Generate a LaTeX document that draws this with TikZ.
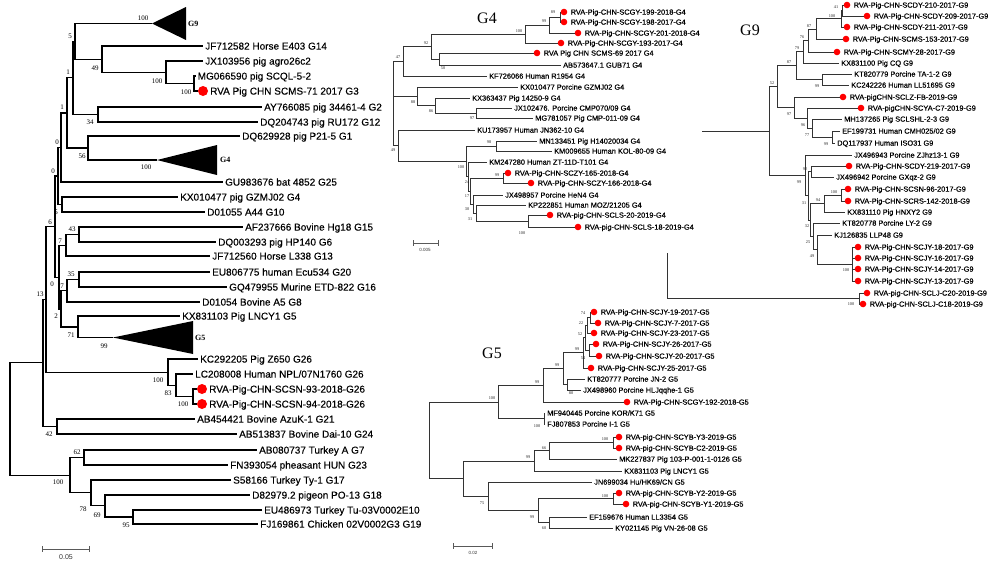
\documentclass[tikz,border=0pt]{standalone}
\usepackage{fontspec}
\setmainfont{Liberation Sans}
\newfontfamily\timesf{Liberation Serif}
\newfontfamily\lblL[FakeBold=0.25]{Liberation Sans}
\newfontfamily\lblR[FakeBold=0.45]{Liberation Sans}
\usetikzlibrary{calc}

\begin{document}
\begin{tikzpicture}[x=1pt, y=-1pt]
%styles
\tikzstyle{txtL}=[anchor=west, inner sep=0pt, font=\lblL\fontsize{10}{12}\selectfont, text height=7.2pt, text depth=0pt]
\tikzstyle{txtR}=[anchor=west, inner sep=0pt, font=\lblR\fontsize{7.4}{9}\selectfont, text height=5.3pt, text depth=0pt]
\tikzstyle{bootL}=[inner sep=0pt, font=\timesf\fontsize{7}{8}\selectfont]
\tikzstyle{bootR}=[inner sep=0pt, font=\timesf\fontsize{4.3}{5}\selectfont, black!85]
\tikzstyle{dotL}=[circle, fill=red, minimum size=10pt, inner sep=0pt]
\tikzstyle{dotR}=[circle, fill=red, minimum size=6.6pt, inner sep=0pt]
\tikzstyle{brL}=[line width=1.1pt]
\tikzstyle{brR}=[line width=0.8pt, black!80]
\tikzstyle{clade}=[anchor=west, inner sep=0pt, font=\timesf\bfseries\fontsize{8}{9}\selectfont]
\tikzstyle{title}=[inner sep=0pt, font=\timesf\fontsize{16}{18}\selectfont]
\tikzstyle{scl}=[line width=0.6pt, black!65, |-|]
\tikzstyle{scltxt}=[inner sep=0pt, font=\fontsize{6.5}{8}\selectfont, black!80]

\fill[white] (0,0) rectangle (1000,562);
\useasboundingbox (0,0) rectangle (1000,562);

%%%%% left tree
%leaves
\foreach \n/\x/\y/\t in {jfa/203/46/{JF712582 Horse E403 G14}, jxa/203/61/{JX103956 pig agro26c2},
  mga/195.5/76/{MG066590 pig SCQL-5-2}, aya/262/107/{AY766085 pig 34461-4 G2},
  dqa/258/122/{DQ204743 pig RU172 G12}, dqb/240/136/{DQ629928 pig P21-5 G1},
  gua/223/182/{GU983676 bat 4852 G25}, kxa/178/197/{KX010477 pig GZMJ02 G4},
  dna/205/212/{D01055 A44 G10}, afa/243/227/{AF237666 Bovine Hg18 G15},
  dqc/216/242/{DQ003293 pig HP140 G6}, jfb/210/256/{JF712560 Horse L338 G13},
  eua/210/272/{EU806775 human Ecu534 G20}, gqa/227/287/{GQ479955 Murine ETD-822 G16},
  dnb/200/302/{D01054 Bovine A5 G8}, kxb/180/316/{KX831103 Pig LNCY1 G5},
  kca/198/359/{KC292205 Pig Z650 G26}, lca/193/374/{LC208008 Human NPL/07N1760 G26},
  aba/195/419/{AB454421 Bovine AzuK-1 G21}, abb/237/434/{AB513837 Bovine Dai-10 G24},
  abc/257/450/{AB080737 Turkey A G7}, fna/228/465/{FN393054 pheasant HUN G23},
  s58/231/480/{S58166 Turkey Ty-1 G17}, d82/250/495/{D82979.2 pigeon PO-13 G18},
  eub/262/510/{EU486973 Turkey Tu-03V0002E10}, fja/258/524/{FJ169861 Chicken 02V0002G3 G19}}
  {\coordinate (\n) at (\x,\y);
   \node[txtL] (t\n) at (\x+2,\y) {\t};}
\foreach \n/\x/\y/\t in {rva71/198/91/{RVA Pig CHN SCMS-71 2017 G3},
  rva93/197/389/{RVA-Pig-CHN-SCSN-93-2018-G26}, rva94/197/404/{RVA-Pig-CHN-SCSN-94-2018-G26}}
  {\coordinate (\n) at (\x,\y);
   \node[dotL] (d\n) at (\x+5,\y) {};
   \node[txtL] (t\n) at (\x+12,\y) {\t};}

%collapsed clades
\coordinate (cg9) at (152,23.5);
\coordinate (cg4) at (157,160);
\coordinate (cg5) at (113,337.5);
\fill (cg9) -- (186,7) -- (186,40) -- cycle;
\fill (cg4) -- (217,145) -- (217,175) -- cycle;
\fill (cg5) -- (193,321) -- (193,354) -- cycle;
\node[clade] (lg9) at (188,24) {G9};
\node[clade] (lg4) at (220,160) {G4};
\node[clade] (lg5) at (195,338) {G5};

%inner nodes
\foreach \n/\x/\y in {nA/194/83.5, nB/166/72.2, nC/102/59.1, nD/75/41.3, nE/98/114.5, nF/73/77.9,
  nG/88/148, nH/67/113, nI/61/147.5, nK/62/204.5, nJ/58/176, n43/79/234.5, n7a/66/245.2,
  n35/79/279.5, n7b/67/290.7, n71/78/327, n2/61/309, n0c/59/277.1, nL/55/226.5, nP/193/396.5,
  n83/176/385.2, nQ/168/372.1, n13/46/299.3, n42/57/426.5, nX/43/362.9, n62/84/457.5,
  n95/133/517, n69/105/505.8, n78/91/492.9, nR/70/475.2, nroot/10/419}
  \coordinate (\n) at (\x,\y);

%branches
\foreach \p/\c in {nA/mga, nA/rva71, nB/jxa, nB/nA, nC/jfa, nC/nB, nD/cg9, nD/nC, nE/aya, nE/dqa,
  nF/nD, nF/nE, nG/dqb, nG/cg4, nH/nF, nH/nG, nI/nH, nI/gua, nK/kxa, nK/dna, nJ/nI, nJ/nK,
  n43/afa, n43/dqc, n7a/n43, n7a/jfb, n35/eua, n35/gqa, n7b/n35, n7b/dnb, n71/kxb, n71/cg5,
  n2/n7b, n2/n71, n0c/n7a, n0c/n2, nL/nJ, nL/n0c, nP/rva93, nP/rva94, n83/lca, n83/nP,
  nQ/kca, nQ/n83, n13/nL, n13/nQ, n42/aba, n42/abb, nX/n13, nX/n42, n62/abc, n62/fna,
  n95/eub, n95/fja, n69/d82, n69/n95, n78/s58, n78/n69, nR/n62, nR/n78, nroot/nX, nroot/nR}
  \draw[brL] (\p) |- (\c);

%bootstrap values
\foreach \t/\x/\y [count=\i] in {100/143/18, 5/70/36, 49/95/68, 1/68/72, 100/157/81, 100/186/92,
  1/62/107, 34/90/122, 0/57/142, 56/82/156, 100/146/167, 0/53/171, 5/56/212, 6/50/222, 43/72/229,
  7/60/241, 35/71/274, 0/52/284, 7/62/286, 13/40/294, 2/56/316, 71/71/335, 99/104/346,
  100/158/380, 83/168/393, 100/183/404, 42/49/434, 62/77/452, 100/58/482, 78/83/509,
  69/97/515, 95/126/525}
  \node[bootL] (bl\i) at (\x,\y) {\t};

%scale
\coordinate (sla) at (42,549);
\coordinate (slb) at (90,549);
\draw[scl] (sla) -- (slb);
\node[scltxt, font=\fontsize{7}{8}\selectfont] (sl) at (66,557) {0.05};

%%%%% G4
\node[title] (tg4) at (487,18) {G4};
\foreach \n/\x/\y/\t in {ab647/561/65/{AB573647.1 GUB71 G4}, kf066/487/76/{KF726066 Human R1954 G4},
  kx477/518/87/{KX010477 Porcine GZMJ02 G4}, kx437/470/98/{KX363437 Pig 14250-9 G4},
  jx476/512/108/{JX102476. Porcine CMP070/09 G4}, mg057/533/118/{MG781057 Pig CMP-011-09 G4},
  ku957/475/130/{KU173957 Human JN362-10 G4}, mn451/537/141/{MN133451 Pig H14020034 G4},
  km655/552/151/{KM009655 Human KOL-80-09 G4}, km280/487/162/{KM247280 Human ZT-11D-T101 G4},
  jx957/503/195/{JX498957 Porcine HeN4 G4}, kp851/526/205/{KP222851 Human MOZ/21205 G4}}
  {\coordinate (\n) at (\x,\y);
   \node[txtR] (t\n) at (\x+2,\y) {\t};}
\foreach \n/\x/\y/\t in {gy199/560.7/12/{RVA-Pig-CHN-SCGY-199-2018-G4},
  gy198/560.7/22/{RVA-Pig-CHN-SCGY-198-2017-G4}, gy201/574.7/33/{RVA-Pig-CHN-SCGY-201-2018-G4},
  gy193/557.7/43/{RVA-Pig-CHN-SCGY-193-2017-G4}, ms69/533.7/53/{RVA Pig CHN SCMS-69 2017 G4},
  zy165/504.7/173/{RVA-Pig-CHN-SCZY-165-2018-G4}, zy166/527.7/183/{RVA-Pig-CHN-SCZY-166-2018-G4},
  ls20/546.7/215/{RVA-pig-CHN-SCLS-20-2019-G4}, ls18/574.7/227/{RVA-pig-CHN-SCLS-18-2019-G4}}
  {\coordinate (\n) at (\x,\y);
   \node[dotR] (d\n) at (\x+3.3,\y) {};
   \node[txtR] (t\n) at (\x+9.8,\y) {\t};}
\foreach \n/\x/\y in {a89/560/17, a99/549/25, a100/525/34, a50/439/59, a92/431/46.5, a47/403/61.3,
  a97/476/113, a86/435/105.5, a88/417/96.3, a98/496/146, a99b/503/178, a100g/528/221,
  a31/476/213, a30/473/204, a17/470/191, a24/468/176.5, a100f/466/161.3, a49/398/145.6,
  aroot/393/96.3}
  \coordinate (\n) at (\x,\y);
\foreach \p/\c in {a89/gy199, a89/gy198, a99/a89, a99/gy201, a100/a99, a100/gy193, a50/ms69,
  a50/ab647, a92/a100, a92/a50, a47/a92, a47/kf066, a97/jx476, a97/mg057, a86/kx437, a86/a97,
  a88/kx477, a88/a86, a98/mn451, a98/km655, a99b/zy165, a99b/zy166, a100g/ls20, a100g/ls18,
  a31/kp851, a31/a100g, a30/jx957, a30/a31, a17/a99b, a17/a30, a24/km280, a24/a17,
  a100f/a98, a100f/a24, a49/ku957, a49/a100f, aroot/a47, aroot/a88, aroot/a49}
  \draw[brR] (\p) |- (\c);
\foreach \t/\x/\y [count=\i] in {89/553/12, 99/544/21, 100/519/31, 92/426/43, 47/398/57, 50/443/68,
  88/413/102, 86/431/111, 97/472/118, 98/489/142, 49/393/150, 100/461/167, 99/497/175,
  24/467/182, 17/467/196, 30/467/209, 31/470/219, 100/522/233}
  \node[bootR] (ba\i) at (\x,\y) {\t};
\coordinate (sga) at (413,243);
\coordinate (sgb) at (438,243);
\draw[scl, line width=0.4pt] (sga) -- (sgb);
\node[scltxt, font=\fontsize{4.5}{5}\selectfont] (sg) at (425,250) {0.005};

%%%%% G9
\node[title] (tg9) at (750,30) {G9};
\foreach \n/\x/\y/\t in {kx100/839/63/{KX831100 Pig CQ G9}, kt779/852/74/{KT820779 Porcine TA-1-2 G9},
  kc226/849/85/{KC242226 Human LL51695 G9}, mh265/842/119/{MH137265 Pig SCLSHL-2-3 G9},
  ef731/840/131/{EF199731 Human CMH025/02 G9}, dq937/835/143/{DQ117937 Human ISO31 G9},
  jx943/852/155/{JX496943 Porcine ZJhz13-1 G9}, jx942/834/177/{JX496942 Porcine GXqz-2 G9},
  kx110/845/212/{KX831110 Pig HNXY2 G9}, kt778/840/223/{KT820778 Porcine LY-2 G9},
  kj835/832/235/{KJ126835 LLP48 G9}}
  {\coordinate (\n) at (\x,\y);
   \node[txtR] (t\n) at (\x+2,\y) {\t};}
\foreach \n/\x/\y/\t in {dy210/843.7/5/{RVA-Pig-CHN-SCDY-210-2017-G9},
  dy209/863.7/16/{RVA-Pig-CHN-SCDY-209-2017-G9}, dy211/843.7/27/{RVA-Pig-CHN-SCDY-211-2017-G9},
  ms153/842.7/39/{RVA-Pig-CHN-SCMS-153-2017-G9}, my28/833.7/52/{RVA-Pig-CHN-SCMY-28-2017-G9},
  lzfb/839.7/97/{RVA-pigCHN-SCLZ-FB-2019-G9}, yac7/857.7/108/{RVA-pigCHN-SCYA-C7-2019-G9},
  dy219/845.7/166/{RVA-Pig-CHN-SCDY-219-2017-G9}, sn96/844.7/189/{RVA-Pig-CHN-SCSN-96-2017-G9},
  rs142/844.7/201/{RVA-Pig-CHN-SCRS-142-2018-G9}, jy18/854.7/247/{RVA-Pig-CHN-SCJY-18-2017-G9},
  jy16/854.7/258/{RVA-Pig-CHN-SCJY-16-2017-G9}, jy14/854.7/269/{RVA-Pig-CHN-SCJY-14-2017-G9},
  jy13/854.7/281/{RVA-Pig-CHN-SCJY-13-2017-G9}, lj20/863.7/293/{RVA-pig-CHN-SCLJ-C20-2019-G9},
  lj18/859.7/304/{RVA-pig-CHN-SCLJ-C18-2019-G9}}
  {\coordinate (\n) at (\x,\y);
   \node[dotR] (d\n) at (\x+3.3,\y) {};
   \node[txtR] (t\n) at (\x+9.8,\y) {\t};}
\foreach \n/\x/\y in {b41/842/10.5, b100/841/18.75, b87/816/28.9, b76/808/40.4, b79/803/51.7,
  b99a/822/79.5, b87b/796/65.6, b99b/832/137, b77/812/128, b96/807/118, b97/794/107.5,
  b52/777/86.5, b92/811/171.5, b100h/841/195, b94/824/203.5, b100i/852/264, b49/817/249.5,
  b25/813/236.25, b32/810/219.9, b31/808/195.7, b99c/805/175.4, broot/769/131, bstub/702/131,
  b100j/859/298.5, blow/667/253}
  \coordinate (\n) at (\x,\y);
\foreach \p/\c in {b41/dy210, b41/dy209, b100/b41, b100/dy211, b87/b100, b87/ms153, b76/b87,
  b76/my28, b79/b76, b79/kx100, b99a/kt779, b99a/kc226, b87b/b79, b87b/b99a, b99b/ef731,
  b99b/dq937, b77/mh265, b77/b99b, b96/yac7, b96/b77, b97/lzfb, b97/b96, b52/b87b, b52/b97,
  b92/dy219, b92/jx942, b100h/sn96, b100h/rs142, b94/b100h, b94/kx110, b100i/jy18, b100i/jy16,
  b100i/jy14, b100i/jy13, b49/kj835, b49/b100i, b25/kt778, b25/b49, b32/b94, b32/b25,
  b31/b92, b31/b32, b99c/jx943, b99c/b31, broot/b52, broot/b99c, bstub/broot, b100j/lj20,
  b100j/lj18, blow/b100j}
  \draw[brR] (\p) |- (\c);
\foreach \t/\x/\y [count=\i] in {41/836/7, 100/832/16, 87/809/26, 76/802/37, 79/797/48, 87/789/62,
  52/772/83, 99/817/86, 97/789/114, 96/803/125, 77/807/135, 99/826/144, 92/805/169, 99/799/182,
  100/834/192, 94/818/200, 31/804/203, 32/807/226, 25/808/242, 49/812/256, 100/846/270,
  100/851/304}
  \node[bootR] (bb\i) at (\x,\y) {\t};

%%%%% G5
\node[title] (tg5) at (492,353) {G5};
\foreach \n/\x/\y/\t in {kt777/585/379/{KT820777 Porcine JN-2 G5}, jx960/581/390/{JX498960 Porcine HLJqqhe-1 G5},
  mf445/545/413/{MF940445 Porcine KOR/K71 G5}, fj853/545/424/{FJ807853 Porcine I-1 G5},
  mk837/617/459/{MK227837 Pig 103-P-001-1-0126 G5}, kx103/622/471/{KX831103 Pig LNCY1 G5},
  jn034/592/482/{JN699034 Hu/HK69/CN G5}, ef676/587/517/{EF159676 Human LL3354 G5},
  ky145/613/528/{KY021145 Pig VN-26-08 G5}}
  {\coordinate (\n) at (\x,\y);
   \node[txtR] (t\n) at (\x+2,\y) {\t};}
\foreach \n/\x/\y/\t in {jy19/590.7/312/{RVA-Pig-CHN-SCJY-19-2017-G5},
  jy7/594.7/323/{RVA-Pig-CHN-SCJY-7-2017-G5}, jy23/590.7/333/{RVA-Pig-CHN-SCJY-23-2017-G5},
  jy26/592.7/344/{RVA-Pig-CHN-SCJY-26-2017-G5}, jy20/595.7/356/{RVA-Pig-CHN-SCJY-20-2017-G5},
  jy25/587.7/368/{RVA-Pig-CHN-SCJY-25-2017-G5}, gy192/623.7/402/{RVA-Pig-CHN-SCGY-192-2018-G5},
  ybY3/615.7/437/{RVA-pig-CHN-SCYB-Y3-2019-G5}, ybC2/615.7/448/{RVA-pig-CHN-SCYB-C2-2019-G5},
  ybY2/615.7/493/{RVA-pig-CHN-SCYB-Y2-2019-G5}, ybY1/622.7/504/{RVA-pig-CHN-SCYB-Y1-2019-G5}}
  {\coordinate (\n) at (\x,\y);
   \node[dotR] (d\n) at (\x+3.3,\y) {};
   \node[txtR] (t\n) at (\x+9.8,\y) {\t};}
\foreach \n/\x/\y in {c74/590/317.5, c22/587/325.25, c54/589/350, c52/585/337.6, c99a/583/352.8,
  c80/567/384.5, c99b/563/368.7, c99c/543/385.3, c100k/544/418.5, c100l/498/401.9,
  c100m/613/442.5, c66/549/450.75, c99f/534/460.9, c100n/613/498.5, c60/549/522.5,
  c99g/538/510.5, c75/488/496.25, cnb/463/478.6, croot/429/440.2}
  \coordinate (\n) at (\x,\y);
\foreach \p/\c in {c74/jy19, c74/jy7, c22/c74, c22/jy23, c54/jy26, c54/jy20, c52/c22, c52/c54,
  c99a/c52, c99a/jy25, c80/kt777, c80/jx960, c99b/c99a, c99b/c80, c99c/c99b, c99c/gy192,
  c100k/mf445, c100k/fj853, c100l/c99c, c100l/c100k, c100m/ybY3, c100m/ybC2, c66/c100m,
  c66/mk837, c99f/c66, c99f/kx103, c100n/ybY2, c100n/ybY1, c60/ef676, c60/ky145,
  c99g/c100n, c99g/c60, c75/jn034, c75/c99g, cnb/c99f, cnb/c75, croot/c100l, croot/cnb}
  \draw[brR] (\p) |- (\c);
\foreach \t/\x/\y [count=\i] in {74/583/313, 22/581/323, 52/580/334, 99/577/349, 54/583/358,
  99/557/365, 80/571/393, 99/537/382, 100/492/398, 100/537/426, 100/605/439, 66/544/448,
  99/528/457, 75/482/503, 100/605/496, 99/532/517, 60/544/528}
  \node[bootR] (bc\i) at (\x,\y) {\t};
\coordinate (sfa) at (453,546);
\coordinate (sfb) at (492,546);
\draw[scl, line width=0.4pt] (sfa) -- (sfb);
\node[scltxt, font=\fontsize{4.5}{5}\selectfont] (sf) at (473,553) {0.02};
\end{tikzpicture}
\end{document}
